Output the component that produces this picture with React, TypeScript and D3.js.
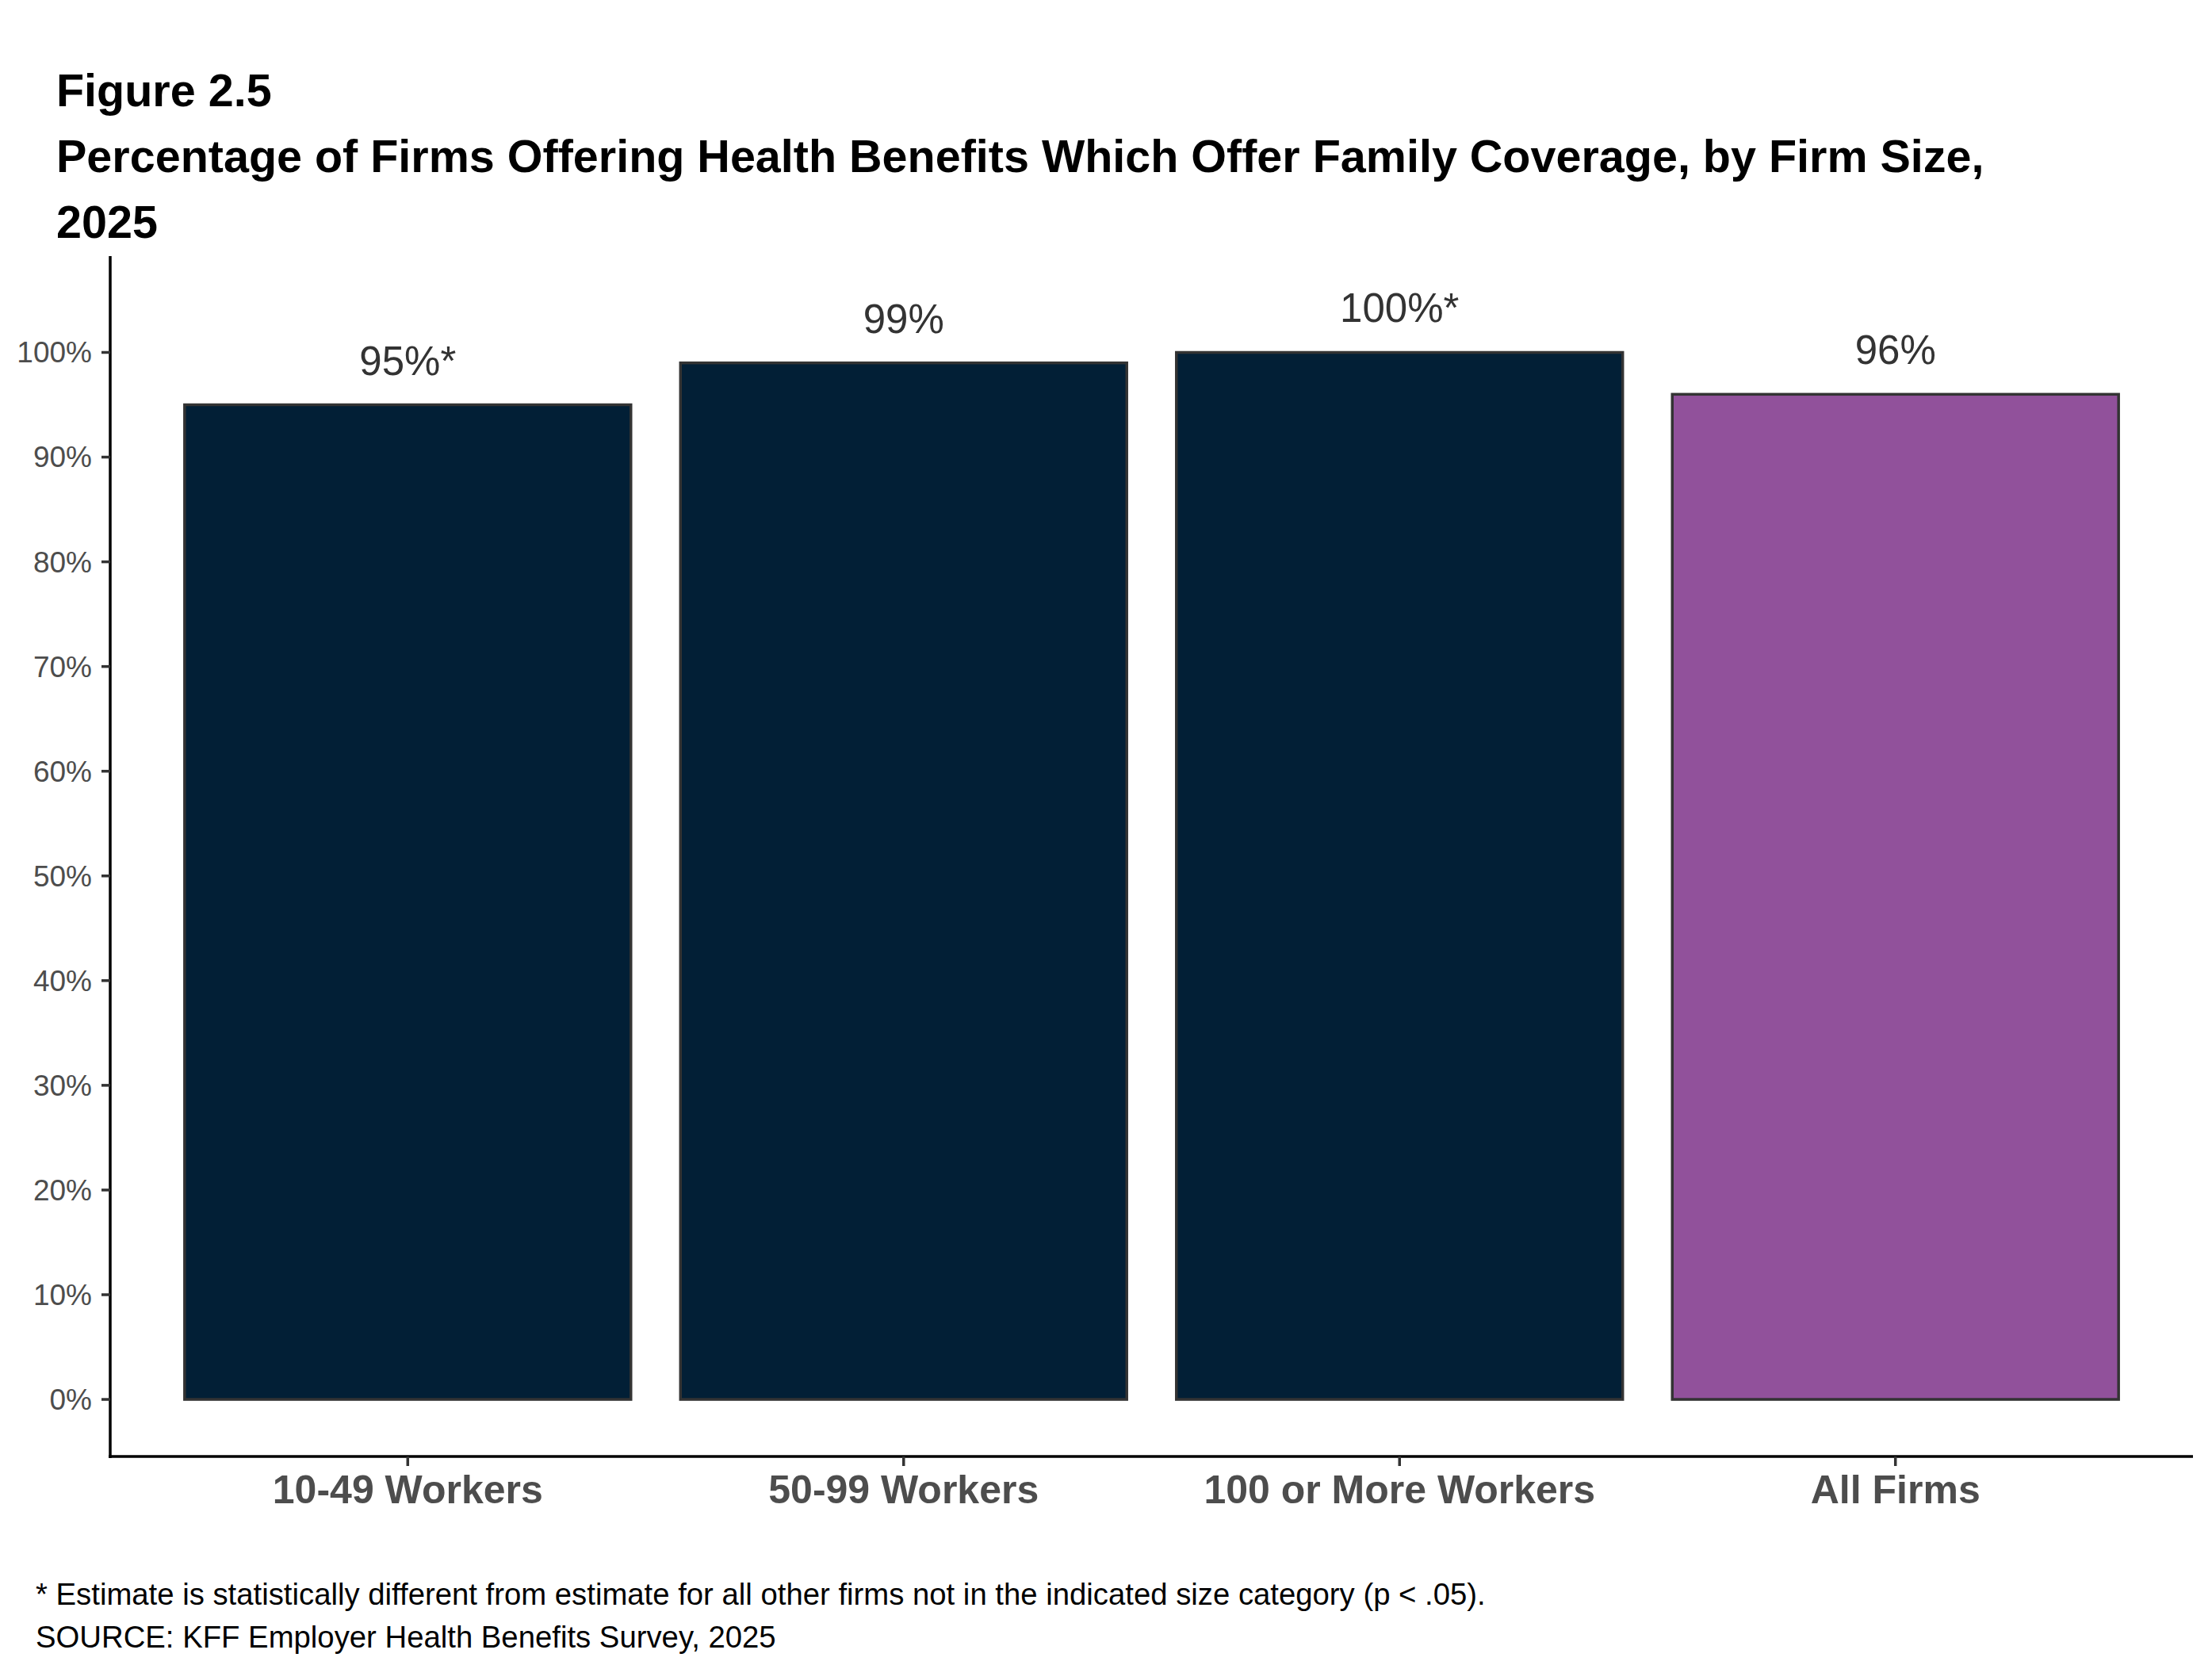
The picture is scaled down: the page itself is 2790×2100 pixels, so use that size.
import * as d3 from 'd3'

const W = 2790
const H = 2100
const FONT = '"Liberation Sans", Arial, sans-serif'

const CATEGORIES = ['10-49 Workers', '50-99 Workers', '100 or More Workers', 'All Firms']
const VALUES = [95, 99, 100, 96]
const VALUE_LABELS = ['95%*', '99%', '100%*', '96%']
const Y_TICKS = [0, 10, 20, 30, 40, 50, 60, 70, 80, 90, 100]
const BAR_COLORS = ['#021f36', '#021f36', '#021f36', '#91519b']

const TITLE_LINES = [
  'Figure 2.5',
  'Percentage of Firms Offering Health Benefits Which Offer Family Coverage, by Firm Size,',
  '2025',
]
const NOTES = [
  '* Estimate is statistically different from estimate for all other firms not in the indicated size category (p < .05).',
  'SOURCE: KFF Employer Health Benefits Survey, 2025',
]

// plot panel edges (axis lines)
const PANEL = { left: 139, right: 2766, top: 323, bottom: 1837 }

export default function App() {
  // discrete axis, ggplot-style: 0.6 of a step of space on each side
  const x = d3
    .scalePoint<string>()
    .domain(CATEGORIES)
    .range([PANEL.left, PANEL.right])
    .padding(0.6)
  const barW = x.step() * 0.9

  const y = d3.scaleLinear().domain([-5.45, 109.2]).range([PANEL.bottom, PANEL.top])

  return (
    <svg
      width={W}
      height={H}
      viewBox={`0 0 ${W} ${H}`}
      style={{ position: 'absolute', left: 0, top: 0, background: '#fff' }}
      fontFamily={FONT}
    >
      <rect width={W} height={H} fill="#fff" />

      {/* Title */}
      {TITLE_LINES.map((t, i) => (
        <text key={t} x={71} y={134 + i * 83} fontSize={57.5} fontWeight="bold" fill="#000">
          {t}
        </text>
      ))}

      {/* Bars */}
      {CATEGORIES.map((c, i) => (
        <rect
          key={c}
          x={(x(c) ?? 0) - barW / 2}
          y={y(VALUES[i])}
          width={barW}
          height={y(0) - y(VALUES[i])}
          fill={BAR_COLORS[i]}
          stroke="#333333"
          strokeWidth={3.5}
        />
      ))}

      {/* Value labels */}
      {CATEGORIES.map((c, i) => (
        <text
          key={c}
          x={x(c) ?? 0}
          y={y(VALUES[i]) - 38}
          textAnchor="middle"
          fontSize={51}
          fill="#333333"
        >
          {VALUE_LABELS[i]}
        </text>
      ))}

      {/* Y axis */}
      <line x1={PANEL.left} x2={PANEL.left} y1={PANEL.top} y2={PANEL.bottom + 2} stroke="#000" strokeWidth={3.5} />
      {Y_TICKS.map((t) => (
        <g key={t} transform={`translate(0,${y(t)})`}>
          <line x1={PANEL.left - 11} x2={PANEL.left} stroke="#333333" strokeWidth={3.5} />
          <text x={116} dy="0.35em" textAnchor="end" fontSize={37} fill="#4d4d4d">
            {`${t}%`}
          </text>
        </g>
      ))}

      {/* X axis */}
      <line x1={PANEL.left - 2} x2={PANEL.right} y1={PANEL.bottom} y2={PANEL.bottom} stroke="#000" strokeWidth={3.5} />
      {CATEGORIES.map((c) => (
        <g key={c} transform={`translate(${x(c) ?? 0},0)`}>
          <line y1={PANEL.bottom} y2={PANEL.bottom + 12} stroke="#333333" strokeWidth={3.5} />
          <text y={1896} textAnchor="middle" fontSize={50} fontWeight="bold" fill="#4d4d4d">
            {c}
          </text>
        </g>
      ))}

      {/* Notes */}
      {NOTES.map((n, i) => (
        <text key={n} x={45} y={2024 + i * 54} fontSize={38.3} fill="#000">
          {n}
        </text>
      ))}
    </svg>
  )
}
